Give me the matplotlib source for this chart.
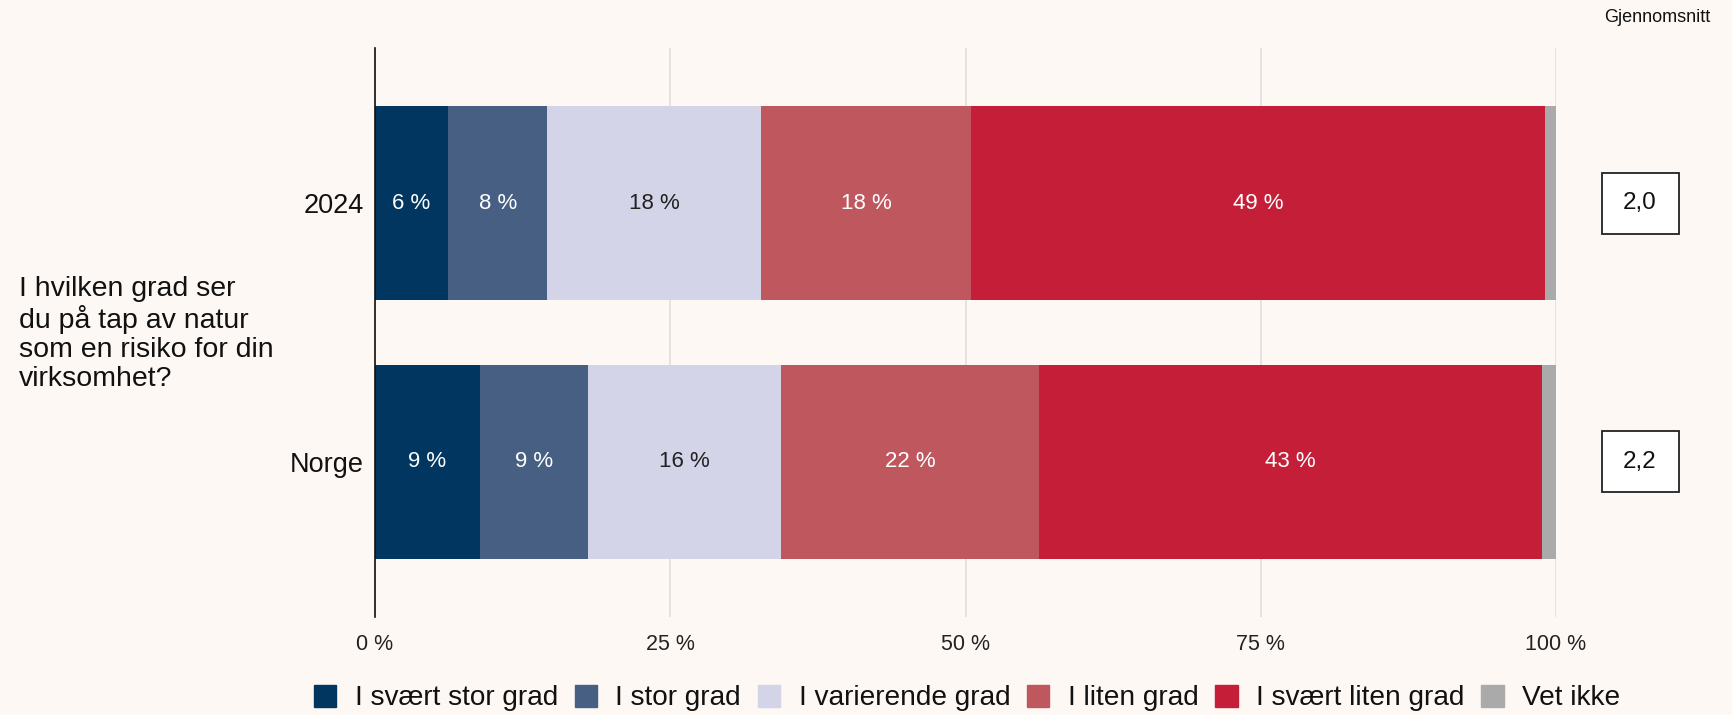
import numpy as np
import matplotlib.pyplot as plt
from matplotlib.patches import Patch, Rectangle
import matplotlib.transforms as mtransforms

plt.rcParams['font.family'] = ['Liberation Sans', 'DejaVu Sans']

groups = ["2024", "Norge"]
categories = ["I svært stor grad", "I stor grad", "I varierende grad",
              "I liten grad", "I svært liten grad", "Vet ikke"]
shares_2024 = [6.2, 8.4, 18.1, 17.8, 48.6, 0.9]
shares_norge = [8.9, 9.1, 16.4, 21.8, 42.6, 1.2]
averages = ["2,0", "2,2"]
question = "I hvilken grad ser\ndu på tap av natur\nsom en risiko for din\nvirksomhet?"

colors = ["#00365f", "#475f83", "#d4d4e8", "#bf575e", "#c51e38", "#aaaaaa"]
text_colors = ["white", "white", "#222222", "white", "white", None]
bg = "#fdf8f4"

data = np.array([shares_2024, shares_norge])

fig = plt.figure(figsize=(17.32, 7.15), dpi=100, facecolor=bg)
ax = fig.add_axes([375 / 1732, 1 - 617 / 715, (1556 - 375) / 1732, (617 - 48) / 715])
ax.set_facecolor(bg)

y = np.arange(len(groups))
left = np.zeros(len(groups))
for j, cat in enumerate(categories):
    vals = data[:, j]
    ax.barh(y, vals, left=left, height=0.75, color=colors[j], label=cat,
            linewidth=0, zorder=3)
    if text_colors[j] is not None:
        for i, v in enumerate(vals):
            ax.text(left[i] + v / 2, y[i], f"{v:.0f} %", ha="center", va="center",
                    fontsize=16, color=text_colors[j], zorder=4)
    left += vals

ax.set_xlim(0, 100)
ax.set_ylim(len(groups) - 0.4, -0.6)
ax.set_xticks([0, 25, 50, 75, 100])
ax.set_xticklabels(["0 %", "25 %", "50 %", "75 %", "100 %"], fontsize=15.5, color="#222222")
ax.set_yticks(y)
ax.set_yticklabels(groups, fontsize=19.5, color="#111111")
ax.tick_params(axis="x", length=0, pad=12)
ax.tick_params(axis="y", length=0, pad=8)
ax.grid(axis="x", color="#e2dedb", linewidth=1.2, zorder=0)
for s in ["top", "right", "bottom"]:
    ax.spines[s].set_visible(False)
ax.spines["left"].set_color("#111111")
ax.spines["left"].set_linewidth(1.2)
ax.spines["left"].set_zorder(5)

# average score boxes to the right of the bars
trans = mtransforms.blended_transform_factory(fig.transFigure, ax.transData)
box_h = 61 / 258.6
for i, avg in enumerate(averages):
    rect = Rectangle((1602 / 1732, y[i] - box_h / 2), 77 / 1732, box_h, transform=trans,
                     facecolor="white", edgecolor="#222222", linewidth=1.3,
                     clip_on=False, zorder=6)
    ax.add_artist(rect)
    ax.text(1640 / 1732, y[i], avg, transform=trans, ha="center", va="center",
            fontsize=17.5, color="#111111", zorder=7, clip_on=False)

fig.text(1710 / 1732, 1 - 17 / 715, "Gjennomsnitt", ha="right", va="center",
         fontsize=13, color="#111111")
fig.text(19 / 1732, 1 - 334 / 715, question, ha="left", va="center",
         fontsize=20.5, color="#111111", linespacing=1.15)

handles = [Patch(facecolor=c, edgecolor=c) for c in colors]
fig.legend(handles, categories, loc="center", bbox_to_anchor=(967 / 1732, 1 - 698 / 715),
           ncol=6, frameon=False, fontsize=20.2, handlelength=0.8, handleheight=0.85,
           handletextpad=0.65, columnspacing=0.6, labelcolor="#111111")

fig.savefig("out.png", dpi=100, facecolor=bg)
